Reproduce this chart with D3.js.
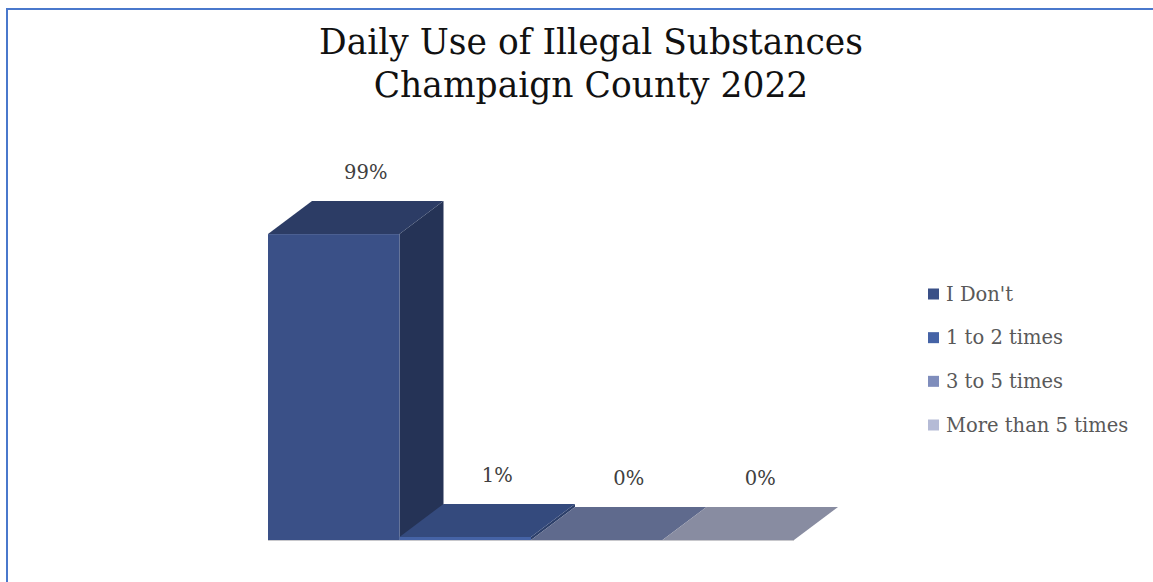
<!DOCTYPE html>
<html>
<head>
<meta charset="utf-8">
<script src="https://cdn.jsdelivr.net/npm/d3@7"></script>
<style>
  html, body { margin: 0; padding: 0; background: #fff; }
  svg { display: block; }
</style>
</head>
<body>
<svg id="chart" width="1153" height="582"></svg>
<script>
const titleLines = ["Daily Use of Illegal Substances", "Champaign County 2022"];
const categories = ["I Don't", "1 to 2 times", "3 to 5 times", "More than 5 times"];
const values = [99, 1, 0, 0];
const valueLabels = ["99%", "1%", "0%", "0%"];
const baseColors = ["#3a5087", "#4563a6", "#7f8dbc", "#b5bbd6"];

const svg = d3.select("#chart");
const W = 1153, H = 582;

// outer border (only top and left visible)
svg.append("rect")
  .attr("x", 7).attr("y", 9)
  .attr("width", W + 10).attr("height", H + 10)
  .attr("fill", "none")
  .attr("stroke", "#4a78cc")
  .attr("stroke-width", 2);

// title
const title = svg.append("text")
  .attr("text-anchor", "middle")
  .attr("font-family", "'DejaVu Serif', serif")
  .attr("font-size", 34.5)
  .attr("fill", "#111");
titleLines.forEach((t, i) => {
  title.append("tspan").attr("x", 591).attr("y", 54 + i * 43).text(t);
});

// scales
const x = d3.scaleBand().domain(categories).range([268, 794]).padding(0);
const y = d3.scaleLinear().domain([0, 100]).range([540, 231]);
const dx = 44, dy = 33;

const shade = (c, k) => {
  const r = d3.rgb(c);
  return d3.rgb(r.r * k, r.g * k, r.b * k).formatHex();
};

const g = svg.append("g");
categories.forEach((c, i) => {
  const x0 = x(c), x1 = x(c) + x.bandwidth();
  const yv = y(values[i]), y0 = y(0);
  const col = baseColors[i];
  const bar = g.append("g");
  // side
  bar.append("path")
    .attr("d", `M${x1},${yv}L${x1 + dx},${yv - dy}L${x1 + dx},${y0 - dy}L${x1},${y0}Z`)
    .attr("fill", shade(col, 0.64));
  // front
  bar.append("rect")
    .attr("x", x0).attr("y", yv)
    .attr("width", x1 - x0).attr("height", Math.max(0, y0 - yv))
    .attr("fill", col);
  // top
  bar.append("path")
    .attr("d", `M${x0},${yv}L${x0 + dx},${yv - dy}L${x1 + dx},${yv - dy}L${x1},${yv}Z`)
    .attr("fill", shade(col, 0.75));
});

// floor edge line
svg.append("line")
  .attr("x1", x.range()[0]).attr("x2", x.range()[1])
  .attr("y1", y(0) + 0.5).attr("y2", y(0) + 0.5)
  .attr("stroke", "#c8c8cc").attr("stroke-width", 1);

// value labels
svg.append("g").selectAll("text")
  .data(categories)
  .join("text")
  .attr("x", c => x(c) + x.bandwidth() / 2 + 32)
  .attr("y", (c, i) => y(values[i]) - dy - 22)
  .attr("text-anchor", "middle")
  .attr("font-family", "'DejaVu Serif', serif")
  .attr("font-size", 19.5)
  .attr("fill", "#404040")
  .text((c, i) => valueLabels[i]);

// legend
const legY = d3.scalePoint().domain(categories).range([294, 425]);
const leg = svg.append("g").selectAll("g").data(categories).join("g")
  .attr("transform", c => `translate(928,${legY(c)})`);
leg.append("rect")
  .attr("x", 0).attr("y", -5.5).attr("width", 11).attr("height", 11)
  .attr("fill", (c, i) => baseColors[i]);
leg.append("text")
  .attr("x", 18).attr("y", 0).attr("dy", "0.35em")
  .attr("font-family", "'DejaVu Serif', serif")
  .attr("font-size", 19.5)
  .attr("fill", "#595959")
  .text(c => c);
</script>
</body>
</html>
